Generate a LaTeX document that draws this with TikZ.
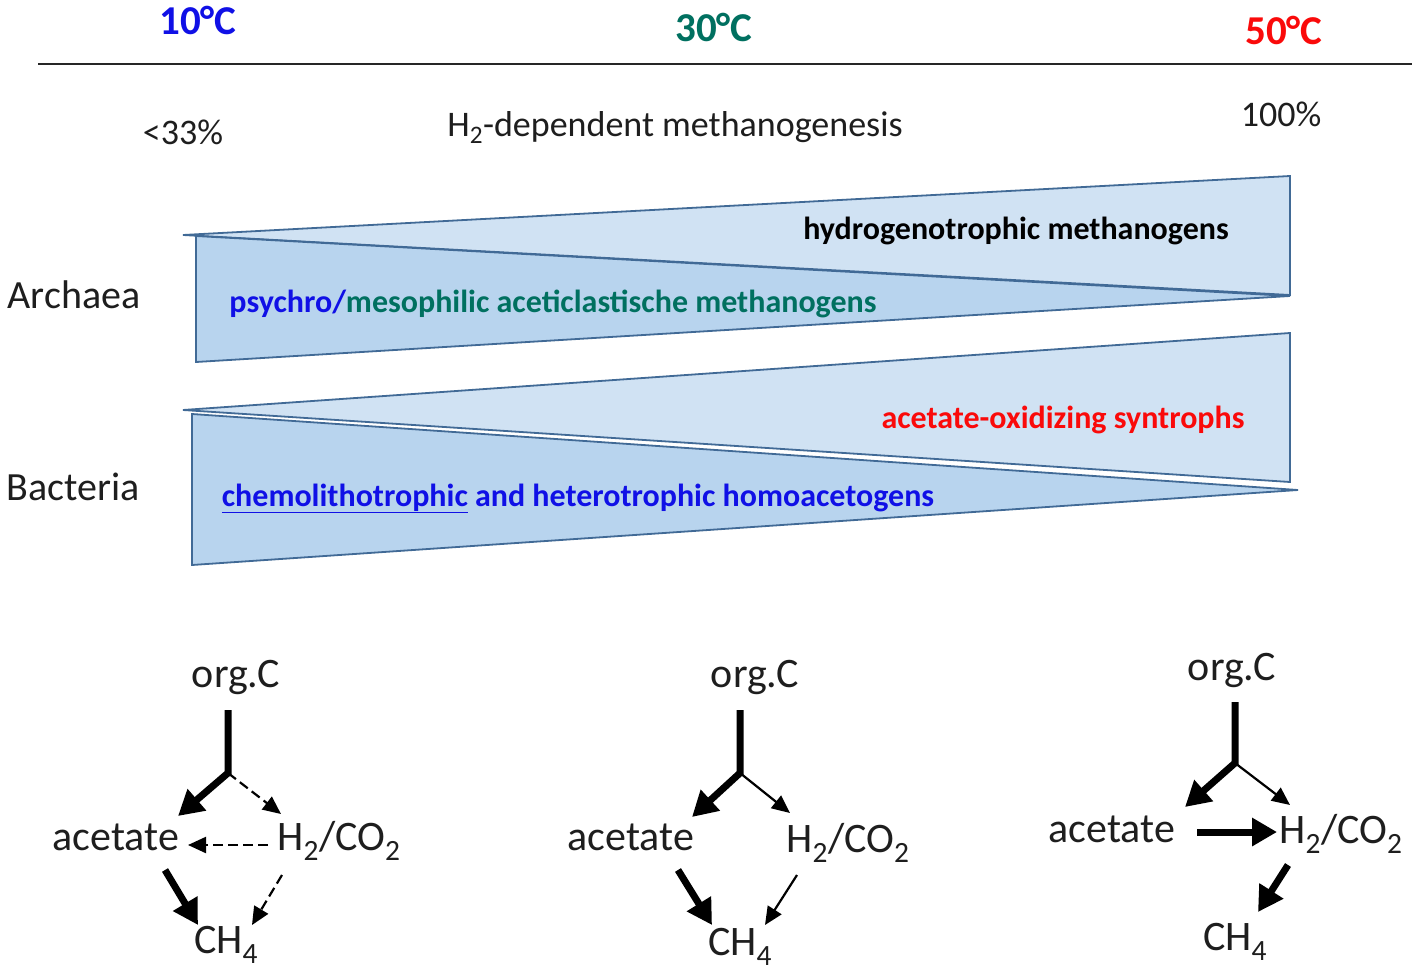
\documentclass[tikz,border=0pt]{standalone}
\usepackage{fontspec}
\setmainfont{Carlito}
\usetikzlibrary{arrows.meta}
\definecolor{tblue}{RGB}{16,16,230}
\definecolor{tteal}{RGB}{0,112,96}
\definecolor{tred}{RGB}{250,10,10}
\definecolor{lightfill}{RGB}{208,226,243}
\definecolor{darkfill}{RGB}{184,212,238}
\definecolor{edgeblue}{RGB}{65,106,150}
\definecolor{txt}{RGB}{30,30,30}
\begin{document}
\begin{tikzpicture}[x=1pt,y=-1pt,
  temp/.style={font=\fontsize{41}{48}\selectfont\bfseries, inner sep=0},
  lbl/.style={font=\fontsize{36}{42}\selectfont, inner sep=0, text=txt},
  grp/.style={font=\fontsize{40}{48}\selectfont, inner sep=0, text=txt},
  tritext/.style={font=\fontsize{32}{38}\selectfont\bfseries, inner sep=0, anchor=base},
  chem/.style={font=\fontsize{42}{50}\selectfont, inner sep=0, text=txt, anchor=base},
  ltri/.style={fill=lightfill, draw=edgeblue, line width=1.8, line join=miter},
  dtri/.style={fill=darkfill, draw=edgeblue, line width=1.8, line join=miter},
  thk/.style={line width=7, -{Triangle[length=25,width=27]}},
  thn/.style={line width=2.2, -{Triangle[length=18,width=16]}},
  dsh/.style={thn, dash pattern=on 10 off 5},
]
\fill[white] (0,0) rectangle (1418,977);
\useasboundingbox (0,0) rectangle (1418,977);

% header
\draw[line width=2, black!85] (38,64) -- (1412,64);
\node[temp, text=tblue] (t10) at (198,20) {10°C};
\node[temp, text=tteal] (t30) at (714,27) {30°C};
\node[temp, text=tred] (t50) at (1284,30) {50°C};

\node[lbl] (p33) at (183,132) {<33\%};
\node[lbl, anchor=base] (h2dep) at (675,136) {H\textsubscript{2}-dependent methanogenesis};
\node[lbl] (p100) at (1281,114) {100\%};

% groups
\node[grp, anchor=base] (arch) at (74,308) {Archaea};
\node[grp, anchor=base] (bact) at (73,500) {Bacteria};

% Archaea triangles
\draw[ltri] (183,235) -- (1290,176) -- (1290,295) -- cycle;
\draw[dtri] (196,236) -- (196,362) -- (1290,296) -- cycle;
% Bacteria triangles
\draw[ltri] (183,410) -- (1290,333) -- (1290,482) -- cycle;
\draw[dtri] (192,414) -- (192,565) -- (1298,490) -- cycle;

\node[tritext, text=black] (hydro) at (1016,239) {hydrogenotrophic methanogens};
\node[tritext] (psych) at (553,312) {\textcolor{tblue}{psychro/}\textcolor{tteal}{mesophilic aceticlastische methanogens}};
\node[tritext, text=tred] (aox) at (1063,428) {acetate-oxidizing syntrophs};
\node[tritext, text=tblue] (homo) at (578,506) {\underline{chemolithotrophic} and heterotrophic homoacetogens};

% ---- diagram 1 (10 C)
\node[chem] (o1) at (236,687) {org.C};
\node[chem] (a1) at (116,850) {acetate};
\node[chem] (h1) at (339,850) {H\textsubscript{2}/CO\textsubscript{2}};
\node[chem] (c1) at (226,953) {CH\textsubscript{4}};
\coordinate (s1) at (228,710);
\coordinate (j1) at (228,773);
\coordinate (a1in) at (178,816);
\coordinate (h1in) at (281,814);
\coordinate (h1w) at (268,845);
\coordinate (a1e) at (188,845);
\coordinate (a1s) at (165,870);
\coordinate (c1a) at (198,925);
\coordinate (h1s) at (282,875);
\coordinate (c1h) at (252,925);
\draw[thk] (s1) -- (j1) -- (a1in);
\draw[dsh] (j1) -- (h1in);
\draw[dsh] (h1w) -- (a1e);
\draw[thk] (a1s) -- (c1a);
\draw[dsh] (h1s) -- (c1h);

% ---- diagram 2 (30 C)
\node[chem] (o2) at (755,687) {org.C};
\node[chem] (a2) at (631,850) {acetate};
\node[chem] (h2) at (848,852) {H\textsubscript{2}/CO\textsubscript{2}};
\node[chem] (c2) at (740,955) {CH\textsubscript{4}};
\coordinate (s2) at (740,710);
\coordinate (j2) at (740,773);
\coordinate (a2in) at (692,817);
\coordinate (h2in) at (790,813);
\coordinate (a2s) at (678,870);
\coordinate (c2a) at (712,925);
\coordinate (h2s) at (797,875);
\coordinate (c2h) at (765,925);
\draw[thk] (s2) -- (j2) -- (a2in);
\draw[thn] (j2) -- (h2in);
\draw[thk] (a2s) -- (c2a);
\draw[thn] (h2s) -- (c2h);

% ---- diagram 3 (50 C)
\node[chem] (o3) at (1232,680) {org.C};
\node[chem] (a3) at (1112,842) {acetate};
\node[chem] (h3) at (1341,843) {H\textsubscript{2}/CO\textsubscript{2}};
\node[chem] (c3) at (1235,950) {CH\textsubscript{4}};
\coordinate (s3) at (1235,702);
\coordinate (j3) at (1235,763);
\coordinate (a3in) at (1185,807);
\coordinate (h3in) at (1290,805);
\coordinate (a3e) at (1197,832);
\coordinate (h3w) at (1277,832);
\coordinate (h3s) at (1288,865);
\coordinate (c3h) at (1258,912);
\draw[thk] (s3) -- (j3) -- (a3in);
\draw[thn] (j3) -- (h3in);
\draw[thk] (a3e) -- (h3w);
\draw[thk] (h3s) -- (c3h);
\end{tikzpicture}
\end{document}
